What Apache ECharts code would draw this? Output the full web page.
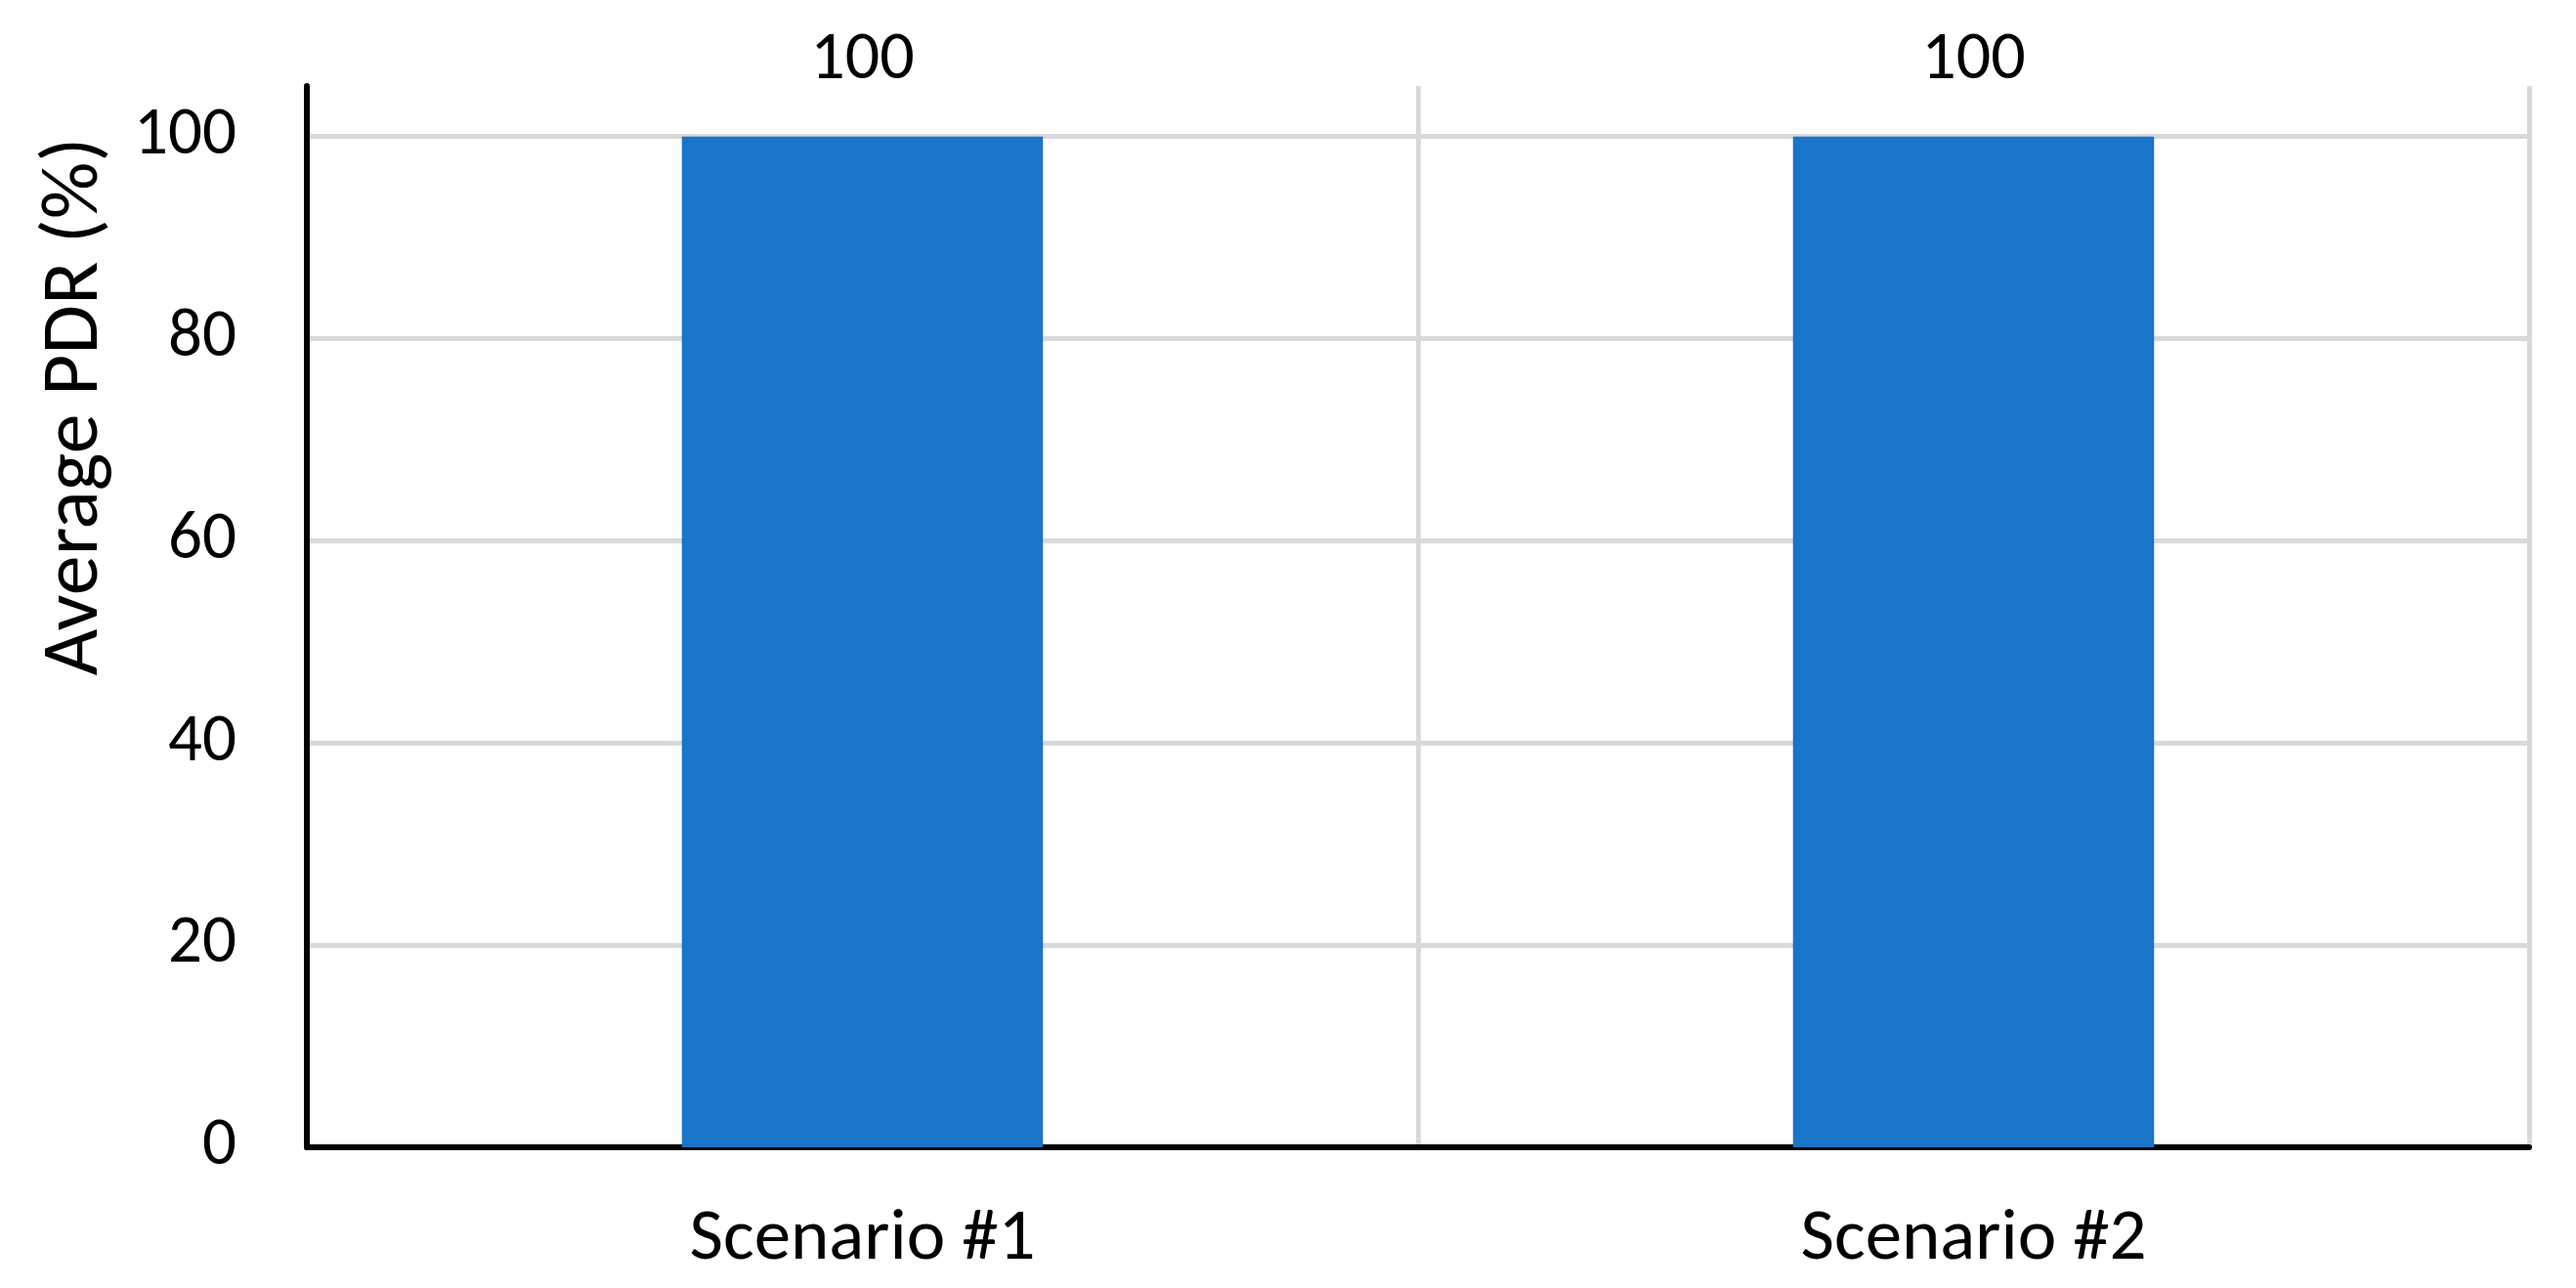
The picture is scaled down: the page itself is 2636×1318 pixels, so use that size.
<!DOCTYPE html>
<html>
<head>
<meta charset="utf-8">
<script src="https://cdn.jsdelivr.net/npm/echarts@6/dist/echarts.min.js"></script>
<style>html,body{margin:0;padding:0;background:#fff}#c{width:2636px;height:1318px}</style>
</head>
<body>
<div id="c"></div>
<script>
const categories = ['Scenario #1', 'Scenario #2'];
const pdrValues = [100, 100];
const yTitle = 'Average PDR (%)';

const FONT = "Carlito, Calibri, 'Liberation Sans Narrow', 'Open Sans', sans-serif";
const chart = echarts.init(document.getElementById('c'), null, {renderer: 'canvas'});
chart.setOption({
  backgroundColor: '#ffffff',
  animation: false,
  grid: {left: 314, right: 48, top: 88, bottom: 144, containLabel: false},
  graphic: [{
    type: 'text', rotation: Math.PI / 2, x: 78, y: 416,
    style: {text: yTitle, font: '82px ' + FONT, fill: '#000', align: 'center', verticalAlign: 'middle'}
  }],
  xAxis: {
    type: 'category', data: categories,
    axisLine: {show: true, lineStyle: {color: '#000', width: 6}},
    axisTick: {show: false},
    splitLine: {show: true, lineStyle: {color: '#d9d9d9', width: 5}},
    axisLabel: {color: '#000', fontFamily: FONT, fontSize: 75, margin: 58}
  },
  yAxis: {
    type: 'value', min: 0, max: 105, interval: 20,
    axisLine: {show: true, lineStyle: {color: '#000', width: 6}},
    axisTick: {show: false},
    splitLine: {show: true, showMaxLine: false, lineStyle: {color: '#d9d9d9', width: 5}},
    axisLabel: {color: '#000', fontFamily: FONT, fontSize: 69, margin: 72, showMaxLabel: false,
      formatter: v => (v === 105 ? '' : String(v))}
  },
  series: [{
    type: 'bar', data: pdrValues, barWidth: '32.5%',
    itemStyle: {color: '#1a74c8'},
    label: {show: true, position: 'top', distance: 42, color: '#000', fontFamily: FONT, fontSize: 70}
  }]
});
</script>
</body>
</html>
